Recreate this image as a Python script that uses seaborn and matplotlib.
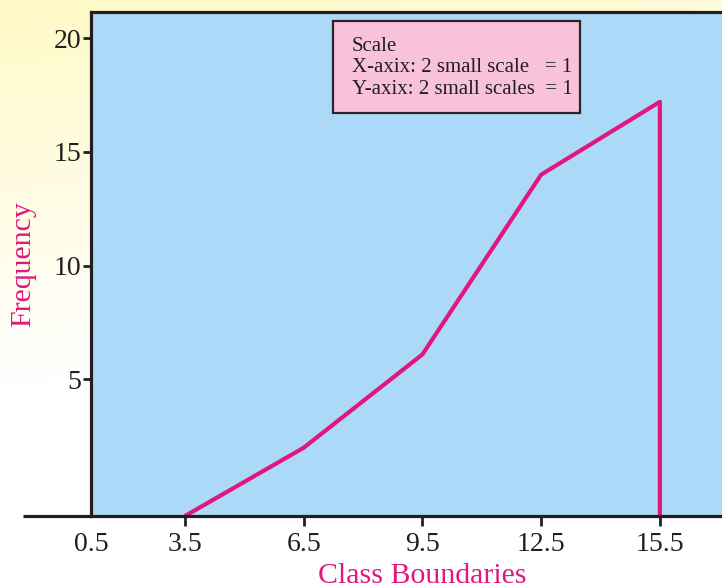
import numpy as np
import pandas as pd
import matplotlib
matplotlib.use("Agg")
import matplotlib.pyplot as plt
import seaborn as sns
from matplotlib.patches import Rectangle

# class boundaries on the x axis
boundaries = [0.5, 3.5, 6.5, 9.5, 12.5, 15.5]
boundary_labels = ["0.5", "3.5", "6.5", "9.5", "12.5", "15.5"]
# axis floor as drawn in the picture (the ogive starts and ends on it)
y_floor = -1.0
# ogive points
ogive_x = [3.5, 6.5, 9.5, 12.5, 15.5, 15.5]
ogive_y = [y_floor, 2, 6.1, 14, 17.2, y_floor]
y_ticks = [5, 10, 15, 20]
scale_note = ["Scale",
              "X-axix: 2 small scale   = 1",
              "Y-axix: 2 small scales  = 1"]

pink = "#e1177d"
ink = "#231f20"

sns.set_theme(style="white")
plt.rcParams["font.family"] = ["Liberation Serif", "DejaVu Serif"]

fig = plt.figure(figsize=(7.22, 5.87), dpi=100)

# soft cream wash behind everything
bg = fig.add_axes([0, 0, 1, 1], zorder=-10)
h, w = 587, 722
yy, xx = np.mgrid[0:h, 0:w]
t = np.clip(1 - yy / 390.0 - xx / 2500.0, 0, 1)[..., None]
top = np.array([255, 249, 198]) / 255.0
img = 1 - t * (1 - top)
bg.imshow(img, aspect="auto", extent=[0, 1, 0, 1])
bg.axis("off")

ax = fig.add_axes([91 / 722, 71 / 587, 631 / 722, 504.5 / 587])
ax.set_facecolor("#acd9f7")

df = pd.DataFrame({"x": ogive_x, "y": ogive_y})
sns.lineplot(data=df, x="x", y="y", sort=False, estimator=None,
             color=pink, linewidth=3, ax=ax)

x_left = 1.125
ax.set_xlim(x_left, 17.07)
ax.set_ylim(y_floor, 21.17)

# the first boundary sits on the left edge (broken axis)
ax.set_xticks([x_left] + boundaries[1:])
ax.set_xticklabels(boundary_labels)
ax.set_yticks(y_ticks)
ax.set_yticklabels([str(v) for v in y_ticks])
ax.tick_params(axis="x", direction="out", length=7.5, width=2, pad=4,
               labelsize=20, colors=ink, bottom=True)
ax.tick_params(axis="y", direction="out", length=6, width=2, pad=1,
               labelsize=20, colors=ink, left=True)
ax.xaxis.get_major_ticks()[0].tick1line.set_visible(False)

for side in ["left", "top", "bottom"]:
    ax.spines[side].set_color(ink)
    ax.spines[side].set_linewidth(2.3)
ax.spines["right"].set_visible(False)

# bottom axis line runs past the left spine
ax.plot([-0.108, 0], [0, 0], transform=ax.transAxes, color=ink,
        linewidth=2.3, clip_on=False, solid_capstyle="butt")

ax.set_xlabel("Class Boundaries", fontsize=21.5, color=pink)
ax.xaxis.set_label_coords(0.525, -0.093)
ax.xaxis.label.set_va("top")
ax.set_ylabel("Frequency", fontsize=21.5, color=pink)
ax.yaxis.set_label_coords(-0.087, 0.50)

ax.add_patch(Rectangle((0.3835, 0.799), 0.3915, 0.182, transform=ax.transAxes,
                       facecolor="#f8c2da", edgecolor="#2a2627",
                       linewidth=1.6, zorder=4))
ax.text(0.4136, 0.949, "\n".join(scale_note), transform=ax.transAxes,
        ha="left", va="top", fontsize=15, color=ink, linespacing=1.16,
        zorder=5)

fig.savefig("out.png", dpi=100)
